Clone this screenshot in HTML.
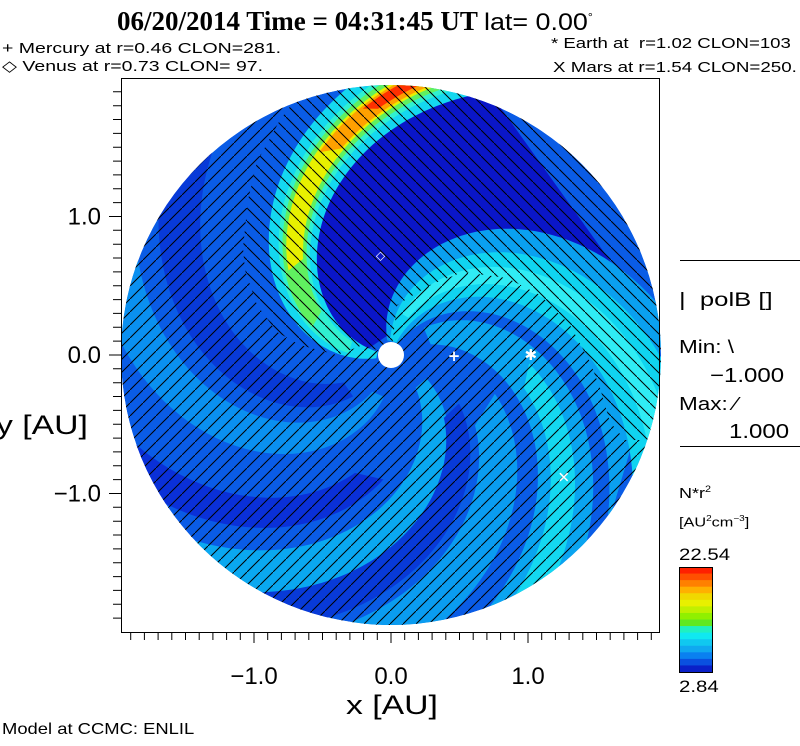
<!DOCTYPE html>
<html><head><meta charset="utf-8">
<style>
html,body{margin:0;padding:0;background:#fff;}
body{width:800px;height:746px;overflow:hidden;position:relative;font-family:"Liberation Sans",sans-serif;}
.t{position:absolute;white-space:nowrap;color:#000;transform-origin:0 0;}
</style></head>
<body>
<div class="t" style="left:117px;top:6px;font-family:'Liberation Serif',serif;font-weight:bold;font-size:27px;">06/20/2014 Time = 04:31:45 UT <span style="font-family:'Liberation Sans',sans-serif;font-weight:normal;font-size:24px;display:inline-block;transform:scaleX(1.12);transform-origin:0 0;">lat= 0.00<sup style="font-size:11px">°</sup></span></div>
<div class="t" style="left:2px;top:40px;font-size:15px;transform:scaleX(1.3);">+ Mercury at r=0.46 CLON=281.</div>
<div class="t" style="left:2px;top:57px;font-size:15px;transform:scaleX(1.3);">◇ Venus at r=0.73 CLON= 97.</div>
<div class="t" style="left:551px;top:35px;font-size:15px;transform:scaleX(1.24);">* Earth at &nbsp;r=1.02 CLON=103</div>
<div class="t" style="left:553px;top:59px;font-size:15px;transform:scaleX(1.25);">X Mars at r=1.54 CLON=250.</div>

<div class="t" style="left:-4px;top:410px;font-size:27px;transform:scaleX(1.25);">y [AU]</div>
<div class="t" style="left:346px;top:690px;font-size:27px;transform:scaleX(1.25);">x [AU]</div>
<div class="t" style="left:2px;top:721px;font-size:16px;transform:scaleX(1.15);">Model at CCMC: ENLIL</div>

<div class="t" style="left:679px;top:290px;font-size:19px;transform:scaleX(1.35);">| &nbsp;polB []</div>
<div class="t" style="left:679px;top:337px;font-size:18px;transform:scaleX(1.25);">Min: \</div>
<div class="t" style="left:710px;top:365px;font-size:20px;transform:scaleX(1.2);">−1.000</div>
<div class="t" style="left:679px;top:394px;font-size:18px;transform:scaleX(1.25);">Max: ⁄</div>
<div class="t" style="left:729px;top:421px;font-size:20px;transform:scaleX(1.2);">1.000</div>
<div class="t" style="left:679px;top:484px;font-size:15px;transform:scaleX(1.2);">N*r<sup style="font-size:9px">2</sup></div>
<div class="t" style="left:679px;top:514px;font-size:13px;transform:scaleX(1.25);">[AU<sup style="font-size:8px">2</sup>cm<sup style="font-size:8px">−3</sup>]</div>
<div class="t" style="left:679px;top:545px;font-size:17px;transform:scaleX(1.2);">22.54</div>
<div class="t" style="left:679px;top:677px;font-size:17px;transform:scaleX(1.2);">2.84</div>

<svg id="svg" width="800" height="746" style="position:absolute;left:0;top:0" xmlns="http://www.w3.org/2000/svg">
<defs>
<clipPath id="disc"><circle cx="391" cy="355" r="270"/></clipPath>
<pattern id="hb" width="13" height="13" patternUnits="userSpaceOnUse"><line x1="-1" y1="-1" x2="14" y2="14" stroke="#000" stroke-width="1"/></pattern>
<pattern id="hf" width="13" height="13" patternUnits="userSpaceOnUse"><line x1="-1" y1="14" x2="14" y2="-1" stroke="#000" stroke-width="1"/></pattern>
</defs>
<g clip-path="url(#disc)"><g id="field"></g></g>
<g id="hatch" clip-path="url(#disc)"></g>
<g id="marks"></g>
<g id="axes"></g>
</svg>
<script>
// data
const bandStart = [104, 172, 176, 178, 180, 181, 183, 62, 72, 80, 30, 36, 0, 230, 258, 298, 322, -20];
const bandEnd   = [172, 198, 193, 191, 189, 188, 187, 110, 98, 90, 55, 47, 20, 248, 276, 312, 342, -5];
const bandRmin  = [0.15, 0.1, 0.3, 0.6, 0.95, 1.55, 1.8, 0.1, 0.1, 0.3, 0.3, 1.0, 0.8, 0.4, 0.3, 0.9, 0.3, 0.6];
const bandColor = ['#0a16c8','#14d8f0','#30f0d0','#60f060','#e8f000','#ffa000','#ff3000','#0aa0f0','#10d4f0','#30ecf4','#0aa4f0','#14d8f0','#0a9cf0','#083ad8','#0a90f0','#0a30d8','#0aa8f0','#083ad8'];
const planetNames = ['mercury','venus','earth','mars'];
const planetR     = [0.46, 0.73, 1.02, 1.54];
const planetAng   = [-1, 96, 0, -35];
const planetSym   = ['+','◇','✱','✕'];
const xTicks = [-1.0, 0.0, 1.0];
const xTickLabels = ['−1.0','0.0','1.0'];
const cbColors = ['#ff2000','#ff5000','#ff8000','#ffb000','#f0d800','#e8f000','#c0f000','#90f000','#60e820','#20f0c0','#10e8f0','#10c8f0','#10a8f0','#0a80f0','#0a50e0','#0a20c8'];

const NS='http://www.w3.org/2000/svg';
const cx=391, cy=355, px=137, k=50;
function xs(v){return cx+v*px;}
function ys(v){return cy-v*138.5;}
function pt(r,deg){const a=deg*Math.PI/180;return [cx+r*px*Math.cos(a), cy-r*px*Math.sin(a)];}
function mk(tag,attrs){const e=document.createElementNS(NS,tag);for(const a in attrs)e.setAttribute(a,attrs[a]);return e;}

const field=document.getElementById('field');
const bg=mk('circle',{cx:cx,cy:cy,r:270,fill:'#0a5ce6'});


field.appendChild(bg);
for(let i=0;i<bandStart.length;i++){
  const pts=[];
  for(let r=bandRmin[i];r<=2.05;r+=0.02){pts.push(pt(r,bandStart[i]-k*r));}
  for(let r=2.05;r>=bandRmin[i];r-=0.02){pts.push(pt(r,bandEnd[i]-k*r));}
  const p=mk('polygon',{points:pts.map(q=>q[0].toFixed(1)+','+q[1].toFixed(1)).join(' '),fill:bandColor[i]});
  
  
  field.appendChild(p);
}
// hatching
const negPts=[[391,355],[363,345],[337,355],[300,345],[277,332],[257,305],[245,270],[243,248],[248,200],[257,162],[280,120],[307,84],[391,70],[560,100],[680,250],[680,440],[625,440],[610,422],[600,388],[590,362],[570,325],[540,295],[507,278],[463,272],[430,285],[397,305]];
const negStr=negPts.map(q=>q.join(',')).join(' ');
const hatch=document.getElementById('hatch');
const cp=mk('clipPath',{id:'posclip'});
cp.appendChild(mk('path',{d:'M100 60H700V660H100Z M'+negPts.map(q=>q.join(' ')).join(' L')+'Z','clip-rule':'evenodd'}));
document.querySelector('defs').appendChild(cp);
const hfWrap=mk('g',{'clip-path':'url(#posclip)'});
const hf=mk('rect',{x:100,y:60,width:600,height:600,fill:'url(#hf)'});


hfWrap.appendChild(hf);
hatch.appendChild(hfWrap);
const np=mk('polygon',{points:negStr,fill:'url(#hb)'});


hatch.appendChild(np);

// markers
const marks=document.getElementById('marks');
const sun=mk('circle',{cx:cx,cy:cy,r:13,fill:'#fff'});


marks.appendChild(sun);
for(let i=0;i<planetR.length;i++){
  const a=planetAng[i]*Math.PI/180;
  const x=xs(planetR[i]*Math.cos(a)), y=ys(planetR[i]*Math.sin(a));
  const t=mk('text',{x:x,y:y+5,'text-anchor':'middle',fill:'#fff','font-size':i==1?12:15,'font-weight':'bold','font-family':'DejaVu Sans, sans-serif'});
  t.textContent=planetSym[i];
  
  
  marks.appendChild(t);
}
// axes
const axes=document.getElementById('axes');
const fr=mk('rect',{x:121.5,y:78.5,width:538,height:554,fill:'none',stroke:'#000','stroke-width':1});


axes.appendChild(fr);
let d='';
for(let v=-1.9;v<=1.95;v+=0.1){
  const major=Math.abs(v-Math.round(v))<0.01;
  const x=xs(v); if(x>=122&&x<=660) d+='M'+x.toFixed(1)+' 633V'+(major?643:640);
  const y=ys(v); if(y>=79&&y<=632) d+='M121 '+y.toFixed(1)+'H'+(major?109:113);
}
const tk=mk('path',{d:d,stroke:'#000','stroke-width':1,fill:'none'});


axes.appendChild(tk);
for(let i=0;i<xTicks.length;i++){
  const t=mk('text',{x:xs(xTicks[i]),y:684,'text-anchor':'middle','font-size':24,'font-family':'Liberation Sans, sans-serif'});
  t.textContent=xTickLabels[i];
  
  
  axes.appendChild(t);
  const u=mk('text',{x:101,y:ys(xTicks[i])+8,'text-anchor':'end','font-size':24,'font-family':'Liberation Sans, sans-serif'});
  u.textContent=xTickLabels[i];
  
  
  axes.appendChild(u);
}
[260,446].forEach(y=>{const l=mk('line',{x1:680,y1:y+0.5,x2:800,y2:y+0.5,stroke:'#000'});


axes.appendChild(l);});
// colorbar
const cbN=cbColors.length, cbTop=567, cbH=105;
for(let i=0;i<cbN;i++){
  const r=mk('rect',{x:679,y:cbTop+i*cbH/cbN,width:33,height:cbH/cbN+0.5,fill:cbColors[i]});
  
  
  axes.appendChild(r);
}
const cb=mk('rect',{x:679.5,y:cbTop+0.5,width:33,height:cbH,fill:'none',stroke:'#000'});


axes.appendChild(cb);
</script>
</body></html>
